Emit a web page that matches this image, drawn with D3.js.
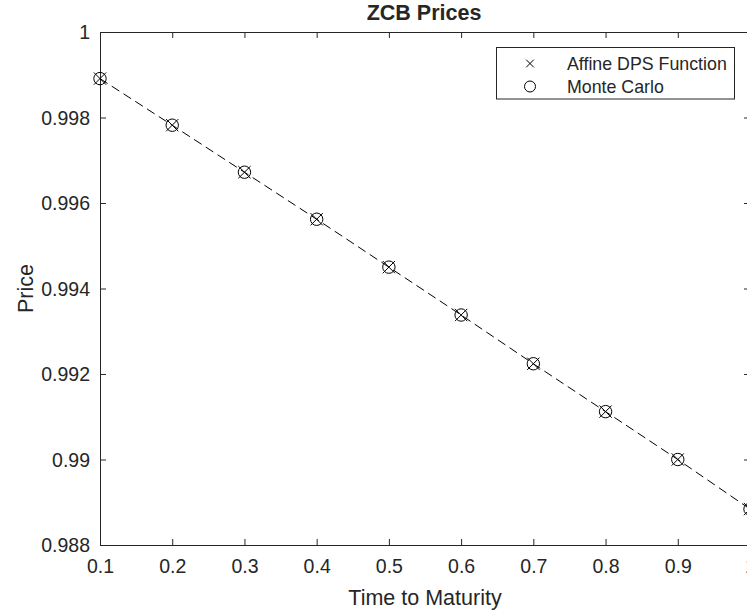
<!DOCTYPE html>
<html>
<head>
<meta charset="utf-8">
<script src="https://cdn.jsdelivr.net/npm/d3@7"></script>
<style>
  body { margin: 0; background: #fff; }
  text { font-family: "Liberation Sans", Arial, Helvetica, sans-serif; fill: #262626; }
</style>
</head>
<body>
<div id="chart"></div>
<script>
// chart data
const maturities = [0.1, 0.2, 0.3, 0.4, 0.5, 0.6, 0.7, 0.8, 0.9, 1.0];
const affinePrices = [0.99891, 0.99782, 0.99672, 0.99562, 0.99450, 0.99338, 0.99224, 0.99112, 0.99000, 0.98884];
const mcPrices = [0.99891, 0.99782, 0.99672, 0.99562, 0.99450, 0.99338, 0.99224, 0.99112, 0.99000, 0.98884];
const xTicks = [0.1, 0.2, 0.3, 0.4, 0.5, 0.6, 0.7, 0.8, 0.9, 1];
const yTicks = [0.988, 0.99, 0.992, 0.994, 0.996, 0.998, 1];
const seriesNames = ['Affine DPS Function', 'Monte Carlo'];

const width = 747;
const height = 611;
const margin = { left: 100, top: 32, right: -3, bottom: 66 };
const axisColor = '#262626';

const drawChart = () => {
    const svg = d3.select('#chart')
        .append('svg')
        .attr('width', width)
        .attr('height', height);

    const x = d3.scaleLinear()
        .domain([0.1, 1])
        .range([margin.left, width - margin.right]);

    const y = d3.scaleLinear()
        .domain([0.988, 1])
        .range([height - margin.bottom, margin.top]);

    const fmt = d => String(+d.toFixed(3));

    // bottom + top axes (inner ticks, MATLAB box style)
    svg.append('g')
        .attr('transform', `translate(0,${y(0.988)})`)
        .call(d3.axisBottom(x).tickValues(xTicks).tickFormat(fmt).tickSizeInner(-6).tickSizeOuter(0).tickPadding(14));
    svg.append('g')
        .attr('transform', `translate(0,${y(1)})`)
        .call(d3.axisTop(x).tickValues(xTicks).tickFormat('').tickSizeInner(-6).tickSizeOuter(0));

    const yAxis = svg.append('g')
        .attr('transform', `translate(${x(0.1)},0)`)
        .call(d3.axisLeft(y).tickValues(yTicks).tickFormat(fmt).tickSizeInner(-6).tickSizeOuter(0).tickPadding(10));
    svg.append('g')
        .attr('transform', `translate(${x(1)},0)`)
        .call(d3.axisRight(y).tickValues(yTicks).tickFormat('').tickSizeInner(-6).tickSizeOuter(0));

    svg.selectAll('.domain, .tick line')
        .attr('stroke', axisColor)
        .attr('stroke-width', 1);
    svg.selectAll('.tick text')
        .attr('font-size', 19.5)
        .attr('fill', axisColor);
    yAxis.selectAll('.tick text').attr('dy', '0.35em');

    // dashed line through the affine prices
    const line = d3.line()
        .x((d, i) => x(maturities[i]))
        .y(d => y(d));

    svg.append('path')
        .datum(affinePrices)
        .attr('d', line)
        .attr('fill', 'none')
        .attr('stroke', '#000')
        .attr('stroke-width', 1)
        .attr('stroke-dasharray', '9,5');

    // Monte Carlo circles
    svg.append('g')
        .selectAll('circle')
        .data(mcPrices)
        .join('circle')
        .attr('cx', (d, i) => x(maturities[i]))
        .attr('cy', d => y(d))
        .attr('r', 6.2)
        .attr('fill', 'none')
        .attr('stroke', '#000')
        .attr('stroke-width', 1);

    // Affine crosses
    const cross = d3.symbol().type(d3.symbolX).size(100);
    svg.append('g')
        .selectAll('path')
        .data(affinePrices)
        .join('path')
        .attr('transform', (d, i) => `translate(${x(maturities[i])},${y(d)})`)
        .attr('d', cross)
        .attr('fill', 'none')
        .attr('stroke', '#000')
        .attr('stroke-width', 1);

    // title and axis labels
    svg.append('text')
        .attr('x', 424)
        .attr('y', 20)
        .attr('text-anchor', 'middle')
        .attr('font-size', 21.5)
        .attr('font-weight', 'bold')
        .attr('fill', '#000')
        .text('ZCB Prices');

    svg.append('text')
        .attr('x', 425)
        .attr('y', 605)
        .attr('text-anchor', 'middle')
        .attr('font-size', 21.5)
        .text('Time to Maturity');

    svg.append('text')
        .attr('transform', `translate(33,${(y(1) + y(0.988)) / 2}) rotate(-90)`)
        .attr('text-anchor', 'middle')
        .attr('font-size', 21.5)
        .text('Price');

    // legend
    const legend = svg.append('g');
    legend.append('rect')
        .attr('x', 496.5)
        .attr('y', 47.5)
        .attr('width', 238)
        .attr('height', 51.5)
        .attr('fill', '#fff')
        .attr('stroke', axisColor)
        .attr('stroke-width', 1);

    const rows = legend.selectAll('g')
        .data(seriesNames)
        .join('g')
        .attr('transform', (d, i) => `translate(530,${63.5 + i * 23})`);

    rows.filter((d, i) => i === 0)
        .append('path')
        .attr('d', d3.symbol().type(d3.symbolX).size(40))
        .attr('fill', 'none')
        .attr('stroke', '#000');
    rows.filter((d, i) => i === 1)
        .append('circle')
        .attr('r', 5.5)
        .attr('fill', 'none')
        .attr('stroke', '#000');

    rows.append('text')
        .attr('x', 37)
        .attr('dy', '0.35em')
        .attr('font-size', 17.8)
        .attr('fill', '#000')
        .text(d => d);
};

drawChart();
</script>
</body>
</html>
